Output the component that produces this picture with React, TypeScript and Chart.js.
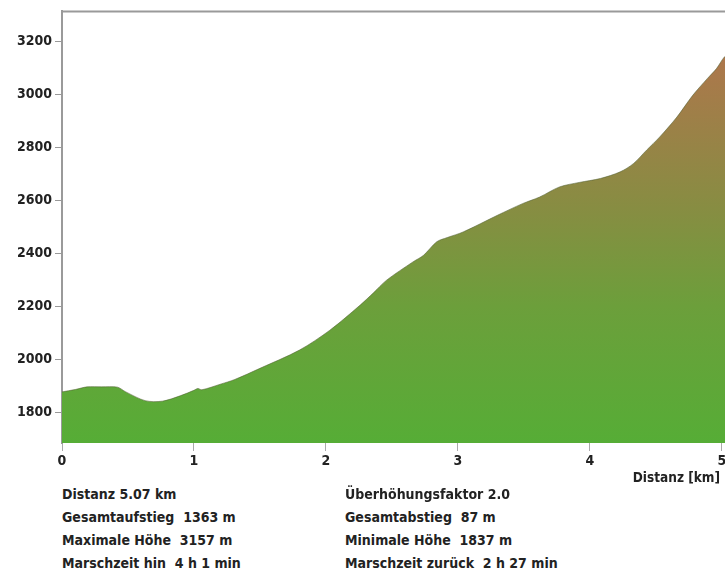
import React, { useEffect, useRef } from "react";
import { Chart, registerables } from "chart.js";

Chart.register(...registerables);

// distance along route (km)
const distanceKm = [
  0, 0.1, 0.19, 0.3, 0.42, 0.48, 0.63, 0.76, 0.9, 1.0, 1.03, 1.06, 1.2, 1.31,
  1.5, 1.8, 2.03, 2.26, 2.36, 2.46, 2.66, 2.74, 2.84, 2.92, 3.04, 3.3, 3.49,
  3.62, 3.77, 3.92, 4.08, 4.23, 4.33, 4.43, 4.53, 4.66, 4.78, 4.89, 4.96, 5.02,
  5.07,
];
// elevation (m)
const elevationM = [
  1876, 1885, 1895, 1895, 1894, 1877, 1843, 1841, 1862, 1882, 1889, 1884, 1905,
  1923, 1965, 2034, 2109, 2204, 2250, 2298, 2367, 2392, 2443, 2459, 2480, 2543,
  2587, 2612, 2650, 2667, 2682, 2707, 2738, 2789, 2839, 2914, 2996, 3059, 3097,
  3141, 3157,
];

const xTicks = [0, 1, 2, 3, 4, 5];
const yTicks = [1800, 2000, 2200, 2400, 2600, 2800, 3000, 3200];
const yMin = 1683;
const yMax = 3313;
const xMax = 5.07;

const statsLeft = [
  "Distanz 5.07 km",
  "Gesamtaufstieg  1363 m",
  "Maximale Höhe  3157 m",
  "Marschzeit hin  4 h 1 min",
];
const statsRight = [
  "Überhöhungsfaktor 2.0",
  "Gesamtabstieg  87 m",
  "Minimale Höhe  1837 m",
  "Marschzeit zurück  2 h 27 min",
];
const xTitle = "Distanz [km]";

const FONT = '"DejaVu Sans Condensed", "DejaVu Sans", sans-serif';

export default function App() {
  const ref = useRef<HTMLCanvasElement | null>(null);

  useEffect(() => {
    if (!ref.current) return;
    const topBorder = {
      id: "topBorder",
      afterDraw(chart: any) {
        const { ctx, chartArea } = chart;
        ctx.save();
        ctx.strokeStyle = "#9a9a9a";
        ctx.lineWidth = 2;
        ctx.beginPath();
        ctx.moveTo(chartArea.left - 1, chartArea.top);
        ctx.lineTo(chart.width, chartArea.top);
        ctx.stroke();
        ctx.restore();
      },
    };
    const chart = new Chart(ref.current, {
      type: "line",
      data: {
        datasets: [
          {
            data: distanceKm.map((d, i) => ({ x: d, y: elevationM[i] })),
            fill: "start",
            borderColor: "rgba(80,95,50,0.55)",
            borderWidth: 1,
            pointRadius: 0,
            tension: 0.3,
            backgroundColor: (c: any) => {
              const ch = c.chart;
              const { chartArea, scales } = ch;
              if (!chartArea) return "#6a9d3c";
              const g = ch.ctx.createLinearGradient(
                0,
                scales.y.getPixelForValue(yMin),
                0,
                scales.y.getPixelForValue(3157)
              );
              g.addColorStop(0, "#56ad36");
              g.addColorStop(0.35, "#6c9f3b");
              g.addColorStop(0.6, "#878d42");
              g.addColorStop(1, "#ae764c");
              return g;
            },
          },
        ],
      },
      options: {
        animation: false,
        responsive: false,
        maintainAspectRatio: false,
        layout: { padding: { left: 0, top: 11, right: 69, bottom: 0 } },
        plugins: {
          legend: { display: false },
          tooltip: { enabled: false },
        },
        scales: {
          x: {
            type: "linear",
            min: 0,
            max: xMax,
            afterFit: (s: any) => {
              s.height = 32;
            },
            afterBuildTicks: (s: any) => {
              s.ticks = xTicks.map((v) => ({ value: v }));
            },
            ticks: {
              color: "#222",
              font: { family: FONT, size: 14, weight: "bold" },
              padding: 2,
              maxRotation: 0,
              autoSkip: false,
              callback: (v: any) => String(v),
            },
            grid: {
              drawOnChartArea: false,
              tickLength: 8,
              color: "#aaa",
            },
            border: { display: false },
          },
          y: {
            min: yMin,
            max: yMax,
            afterFit: (s: any) => {
              s.width = 62;
            },
            afterBuildTicks: (s: any) => {
              s.ticks = yTicks.map((v) => ({ value: v }));
            },
            ticks: {
              color: "#222",
              font: { family: FONT, size: 14, weight: "bold" },
              padding: 3,
              callback: (v: any) => String(v),
            },
            grid: {
              drawOnChartArea: false,
              tickLength: 7,
              color: "#999",
            },
            border: { display: true, color: "#9a9a9a", width: 2 },
          },
        },
      },
      plugins: [topBorder],
    });
    return () => chart.destroy();
  }, []);

  const textStyle: React.CSSProperties = {
    position: "absolute",
    fontFamily: FONT,
    fontWeight: "bold",
    fontSize: 14,
    color: "#222",
    whiteSpace: "pre",
    lineHeight: "16px",
  };
  const rowsY = [486, 509, 532, 555];

  return (
    <div
      style={{
        position: "absolute",
        left: 0,
        top: 0,
        width: 725,
        height: 568,
        overflow: "hidden",
        background: "#fff",
      }}
    >
      <canvas
        ref={ref}
        width={800}
        height={475}
        style={{ position: "absolute", left: 0, top: 0, width: 800, height: 475 }}
      />
      <div
        style={{
          ...textStyle,
          fontSize: 13.5,
          left: 600,
          width: 120,
          textAlign: "right",
          top: 469,
        }}
      >
        {xTitle}
      </div>
      {statsLeft.map((t, i) => (
        <div key={"l" + i} style={{ ...textStyle, left: 62, top: rowsY[i] }}>
          {t}
        </div>
      ))}
      {statsRight.map((t, i) => (
        <div key={"r" + i} style={{ ...textStyle, left: 345, top: rowsY[i] }}>
          {t}
        </div>
      ))}
    </div>
  );
}
